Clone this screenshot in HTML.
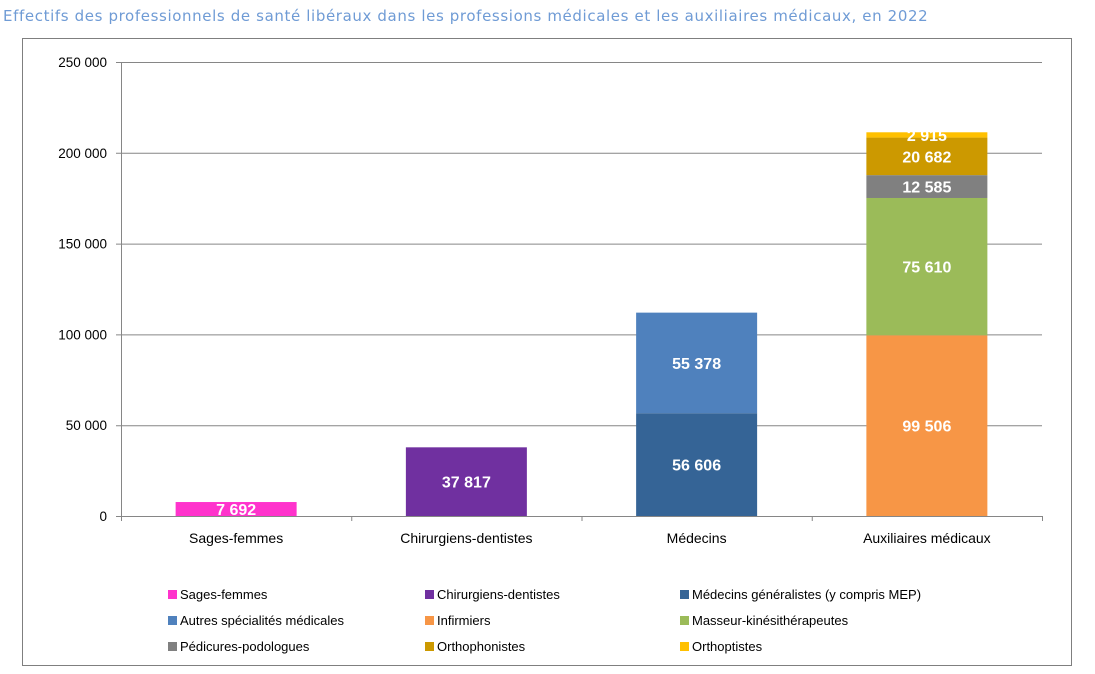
<!DOCTYPE html>
<html><head><meta charset="utf-8"><style>
body{margin:0;background:#fff;width:1095px;height:674px;overflow:hidden;font-family:"Liberation Sans",sans-serif}
#title{position:absolute;left:3px;top:7px;font-size:15px;letter-spacing:0.62px;font-family:"DejaVu Sans",sans-serif;color:#6f9bd5;white-space:nowrap}
svg{position:absolute;left:0;top:0}
</style></head><body>
<div id="title">Effectifs des professionnels de santé libéraux dans les professions médicales et les auxiliaires médicaux, en 2022</div>
<svg id="chart" width="1095" height="674"></svg>
<script>
const categories=["Sages-femmes","Chirurgiens-dentistes","Médecins","Auxiliaires médicaux"];
const seriesNames=["Sages-femmes","Chirurgiens-dentistes","Médecins généralistes (y compris MEP)","Autres spécialités médicales","Infirmiers","Masseur-kinésithérapeutes","Pédicures-podologues","Orthophonistes","Orthoptistes"];
const seriesCategory=[0,1,2,2,3,3,3,3,3];
const seriesValues=[7692,37817,56606,55378,99506,75610,12585,20682,2915];
const seriesLabels=["7 692","37 817","56 606","55 378","99 506","75 610","12 585","20 682","2 915"];
const colors=["#ff33cc","#7030a0","#356496","#4f81bd","#f79646","#9bbb59","#808080","#cc9900","#ffc000"];
const yTicks=[0,50000,100000,150000,200000,250000];
const yTickLabels=["0","50 000","100 000","150 000","200 000","250 000"];
const NS="http://www.w3.org/2000/svg";
const svg=document.getElementById('chart');
const X0=121,X1=1042,Y0=516,Y1=62,YMAX=250000,BW=121;
const y=v=>Y0-(v/YMAX)*(Y0-Y1);
const cx=i=>X0+(i+0.5)*(X1-X0)/categories.length;
function mk(t,a){const e=document.createElementNS(NS,t);for(const k in a)e.setAttribute(k,a[k]);svg.appendChild(e);return e;}
let frame=mk('rect',{x:22.5,y:38.5,width:1049,height:627,fill:'none',stroke:'#7f7f7f'});


yTicks.forEach((t,i)=>{
  const g=mk('line',{x1:X0-5,x2:X1,y1:y(t)+0.5,y2:y(t)+0.5,stroke:'#868686','stroke-width':1});
  
  
  const l=mk('text',{x:107,y:y(t)+5,'text-anchor':'end','font-size':13.5,fill:'#000'});
  l.textContent=yTickLabels[i];
  
  
});
const ax=mk('line',{x1:X0+0.5,x2:X0+0.5,y1:Y1,y2:Y0,stroke:'#868686'});


for(let i=0;i<=categories.length;i++){
  const xx=X0+i*(X1-X0)/categories.length;
  const tk=mk('line',{x1:xx+0.5,x2:xx+0.5,y1:Y0,y2:Y0+5,stroke:'#868686'});
  
  
}
categories.forEach((c,i)=>{
  const t=mk('text',{x:cx(i),y:543,'text-anchor':'middle','font-size':14,fill:'#000'});
  t.textContent=c;
  
  
});
const base=categories.map(()=>0);
seriesValues.forEach((v,s)=>{
  const c=seriesCategory[s],b=base[c];
  const r=mk('rect',{x:cx(c)-BW/2,y:y(b+v),width:BW,height:y(b)-y(b+v),fill:colors[s]});
  
  
  const t=mk('text',{x:cx(c),y:(y(b)+y(b+v))/2+6,'text-anchor':'middle','font-size':16,'font-weight':'bold',fill:'#fff'});
  t.textContent=seriesLabels[s];
  
  
  base[c]=b+v;
});
const lx=[168,425,680],ly=[595,621,647];
seriesNames.forEach((n,s)=>{
  const x=lx[s%3],yy=ly[Math.floor(s/3)];
  const r=mk('rect',{x:x,y:yy-5,width:9,height:9,fill:colors[s]});
  
  
  const t=mk('text',{x:x+12,y:yy+4,'font-size':13,fill:'#000'});
  t.textContent=n;
  
  
});
</script>
</body></html>
